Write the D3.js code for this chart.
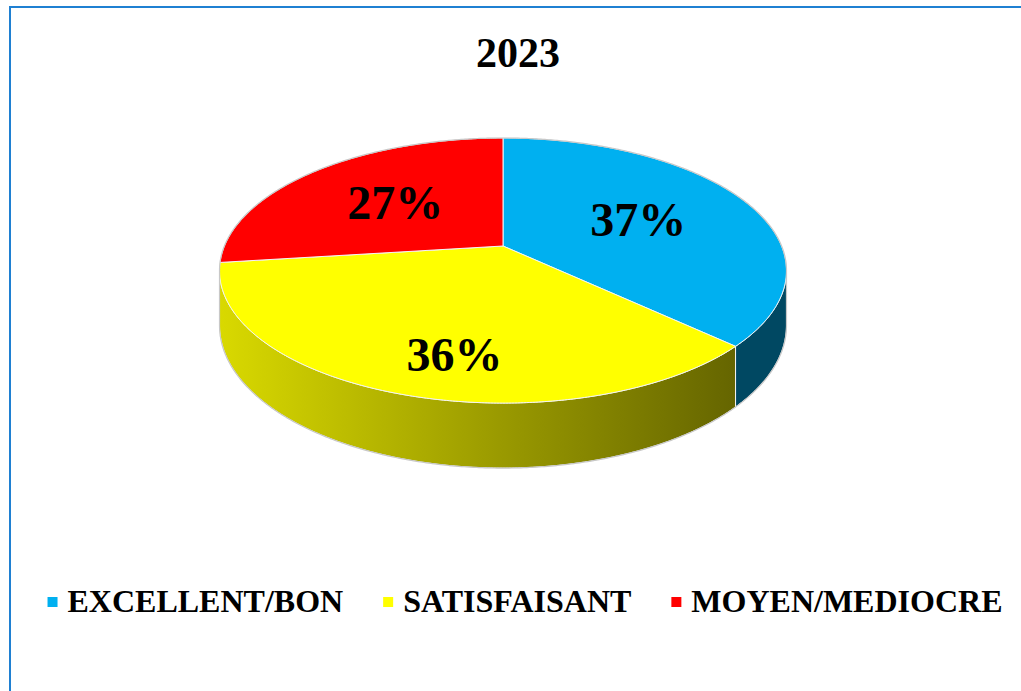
<!DOCTYPE html>
<html>
<head>
<meta charset="utf-8">
<script src="https://cdn.jsdelivr.net/npm/d3@7"></script>
<style>
  body { margin: 0; background: #fff; }
  svg { display: block; }
</style>
</head>
<body>
<div id="chart"></div>
<script>
// data
const title = '2023';
const categories = ['EXCELLENT/BON', 'SATISFAISANT', 'MOYEN/MEDIOCRE'];
const values = [37, 36, 27];
const labels = ['37%', '36%', '27%'];

const colors = ['#00b0f0', '#ffff00', '#ff0000'];
const font = '"Liberation Serif", "Times New Roman", serif';

const width = 1021, height = 691;

const svg = d3.select('#chart')
    .append('svg')
    .attr('width', width)
    .attr('height', height);

// frame (runs off the right and bottom edges like the original)
svg.append('rect')
    .attr('x', 10).attr('y', 7)
    .attr('width', 1040).attr('height', 720)
    .attr('fill', 'none')
    .attr('stroke', '#1f80d2')
    .attr('stroke-width', 2);

svg.append('text')
    .attr('x', 518).attr('y', 67)
    .attr('text-anchor', 'middle')
    .attr('font-family', font)
    .attr('font-weight', 'bold')
    .attr('font-size', 42)
    .text(title);

// 3d pie with a bit of perspective
const cx = 503, cy = 246;   // projected centre of top face
const A = 278.6, B = 128;   // horizontal / vertical radii
const q = 0.185;            // perspective strength
const depth = 53;           // thickness

function proj(theta, r, drop) {
    const s = Math.sin(theta), c = Math.cos(theta);
    const w = 1 + q * r * c;
    return [cx + A * r * s / w, cy - B * r * c / w + (drop || 0) / w];
}

function arcPoints(a0, a1, drop) {
    const n = Math.max(2, Math.ceil(Math.abs(a1 - a0) / (Math.PI / 360)));
    return d3.range(n + 1).map(i => proj(a0 + (a1 - a0) * i / n, 1, drop));
}

const pie = d3.pie().sort(null).value(d => d);
const arcs = pie(values);
const line = d3.line();

const thR = Math.acos(-q);               // right silhouette
const thL = 2 * Math.PI - Math.acos(-q); // left silhouette

const defs = svg.append('defs');
const pieG = svg.append('g');

// sides
arcs.forEach((a, i) => {
    const lo = Math.max(a.startAngle, thR), hi = Math.min(a.endAngle, thL);
    if (lo >= hi) return;
    const pts = arcPoints(lo, hi, 0).concat(arcPoints(hi, lo, depth));
    let fill;
    if (i === 1) {
        const xs = pts.map(p => p[0]);
        const base = d3.color(colors[i]);
        const g = defs.append('linearGradient')
            .attr('id', 'side' + i)
            .attr('gradientUnits', 'userSpaceOnUse')
            .attr('x1', d3.min(xs)).attr('x2', d3.max(xs))
            .attr('y1', 0).attr('y2', 0);
        g.append('stop').attr('offset', 0).attr('stop-color', base.darker(0.45));
        g.append('stop').attr('offset', 1).attr('stop-color', base.darker(2.6));
        fill = 'url(#side' + i + ')';
    } else {
        fill = d3.color(colors[i]).darker(2.5);
    }
    pieG.append('path')
        .attr('d', line(pts) + 'Z')
        .attr('fill', fill)
        .attr('stroke', '#f4f4f4')
        .attr('stroke-width', 1);
});

// top face
arcs.forEach((a, i) => {
    const pts = [proj(0, 0)].concat(arcPoints(a.startAngle, a.endAngle, 0));
    pieG.append('path')
        .attr('d', line(pts) + 'Z')
        .attr('fill', colors[i])
        .attr('stroke', '#f4f4f4')
        .attr('stroke-width', 1);
});

// soft outline
const outline = arcPoints(thL - 2 * Math.PI, thR, 0).concat(arcPoints(thR, thL, depth));
pieG.append('path')
    .attr('d', line(outline) + 'Z')
    .attr('fill', 'none')
    .attr('stroke', '#c8c8c8')
    .attr('stroke-width', 1.2);

// labels
const labelNudge = [[0, 0], [4, 34], [0, 0]];
arcs.forEach((a, i) => {
    const mid = (a.startAngle + a.endAngle) / 2;
    const p = proj(mid, 0.55, 0);
    pieG.append('text')
        .attr('x', p[0] + labelNudge[i][0])
        .attr('y', p[1] + labelNudge[i][1])
        .attr('dy', '0.35em')
        .attr('text-anchor', 'middle')
        .attr('font-family', font)
        .attr('font-weight', 'bold')
        .attr('font-size', 48)
        .text(labels[i]);
});

// legend
const legend = svg.append('g');
let lx = 0;
categories.forEach((c, i) => {
    const item = legend.append('g').attr('transform', 'translate(' + lx + ',0)');
    item.append('rect')
        .attr('x', 0).attr('y', -10)
        .attr('width', 10).attr('height', 10)
        .attr('fill', colors[i]);
    const t = item.append('text')
        .attr('x', 20).attr('y', 0)
        .attr('font-family', font)
        .attr('font-weight', 'bold')
        .attr('font-size', 32)
        .text(c);
    lx += 20 + t.node().getComputedTextLength() + 40;
});
lx -= 40;
legend.attr('transform', 'translate(' + (525 - lx / 2) + ',612)');
legend.selectAll('rect').attr('y', -15);
</script>
</body>
</html>
